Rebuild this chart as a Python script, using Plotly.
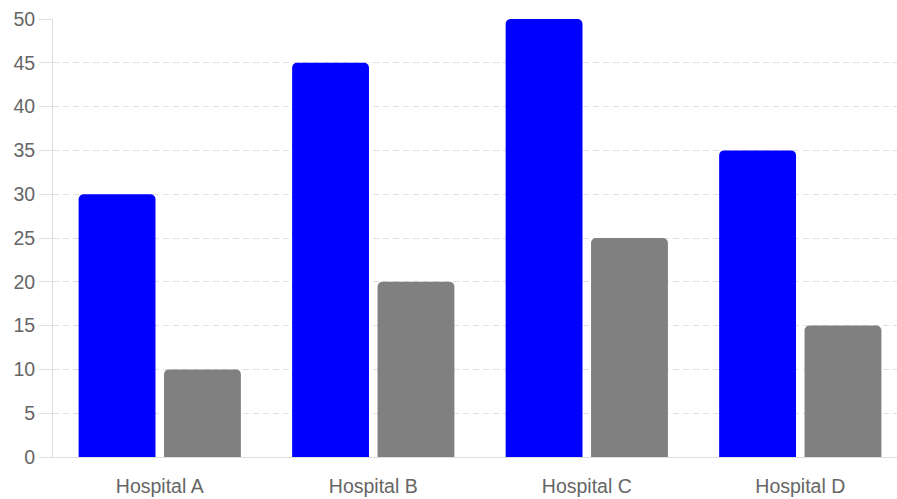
import plotly.graph_objects as go

categories = ["Hospital A", "Hospital B", "Hospital C", "Hospital D"]
series_blue = [30, 45, 50, 35]
series_gray = [10, 20, 25, 15]
y_ticks = [0, 5, 10, 15, 20, 25, 30, 35, 40, 45, 50]

font_family = "Liberation Sans, Arial, Helvetica, sans-serif"
axis_color = "#dddddd"
grid_color = "#e0e0e0"
text_color = "#666666"

fig = go.Figure()
fig.add_trace(go.Bar(x=categories, y=series_blue, name="Series 1",
                     marker=dict(color="#0000ff", cornerradius=5, line=dict(width=0))))
fig.add_trace(go.Bar(x=categories, y=series_gray, name="Series 2",
                     marker=dict(color="#808080", cornerradius=5, line=dict(width=0))))

fig.update_layout(
    width=897, height=499,
    margin=dict(l=53, r=0, t=19, b=42),
    paper_bgcolor="white", plot_bgcolor="white",
    barmode="group", bargap=0.2, bargroupgap=0.1,
    showlegend=False,
    font=dict(family=font_family, size=19.5, color=text_color),
    xaxis=dict(
        range=[-0.5, 3.453],
        showgrid=False, showline=True, linecolor=axis_color, linewidth=1,
        ticks="", ticklabelstandoff=12, zeroline=False,
        tickfont=dict(family=font_family, size=19.5, color=text_color),
    ),
    yaxis=dict(
        range=[0, 50], tickvals=y_ticks, showgrid=True, gridcolor=grid_color,
        griddash="6px,4px", gridwidth=1, zeroline=False,
        showline=True, linecolor=axis_color, linewidth=1,
        ticks="outside", ticklen=13, tickcolor=grid_color, tickwidth=1,
        tickfont=dict(family=font_family, size=19.5, color=text_color),
    ),
)

fig.write_html("out.html")
